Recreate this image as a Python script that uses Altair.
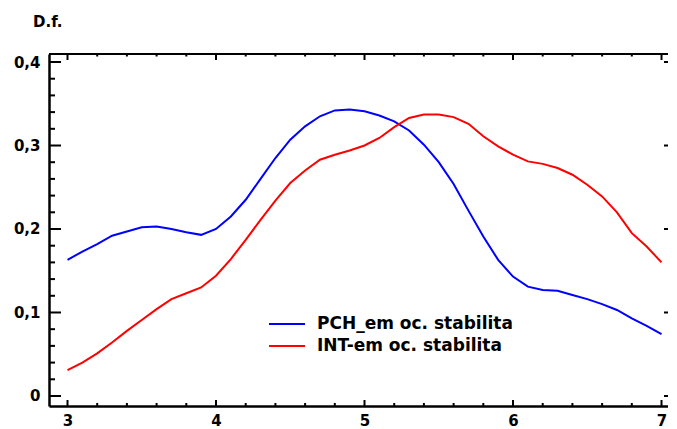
import altair as alt
import pandas as pd

# ---------------- data ----------------
x_vals = [3.0, 3.1, 3.2, 3.3, 3.4, 3.5, 3.6, 3.7, 3.8, 3.9,
          4.0, 4.1, 4.2, 4.3, 4.4, 4.5, 4.6, 4.7, 4.8, 4.9,
          5.0, 5.1, 5.2, 5.3, 5.4, 5.5, 5.6, 5.7, 5.8, 5.9,
          6.0, 6.1, 6.2, 6.3, 6.4, 6.5, 6.6, 6.7, 6.8, 6.9, 7.0]

pch_vals = [0.163, 0.173, 0.182, 0.192, 0.197, 0.202, 0.203, 0.200, 0.196, 0.193,
            0.200, 0.215, 0.235, 0.260, 0.285, 0.307, 0.323, 0.335, 0.342, 0.343,
            0.341, 0.336, 0.329, 0.318, 0.301, 0.280, 0.254, 0.222, 0.191, 0.163,
            0.143, 0.131, 0.127, 0.126, 0.121, 0.116, 0.110, 0.103, 0.093, 0.084, 0.074]

int_vals = [0.031, 0.040, 0.051, 0.064, 0.078, 0.091, 0.104, 0.116, 0.123, 0.130,
            0.144, 0.164, 0.187, 0.211, 0.234, 0.255, 0.270, 0.283, 0.289, 0.294,
            0.300, 0.309, 0.322, 0.333, 0.337, 0.337, 0.334, 0.326, 0.311, 0.299,
            0.289, 0.281, 0.278, 0.273, 0.265, 0.253, 0.239, 0.220, 0.195, 0.179, 0.160]

series_names = ["PCH_em oc. stabilita", "INT-em oc. stabilita"]
series_colors = ["#0000FF", "#FF0000"]

x_major = [3, 4, 5, 6, 7]
x_minor = [3.2, 3.4, 3.6, 3.8, 4.2, 4.4, 4.6, 4.8, 5.2, 5.4, 5.6, 5.8,
           6.2, 6.4, 6.6, 6.8]
y_major = [0, 0.1, 0.2, 0.3, 0.4]
y_minor = [0.02, 0.04, 0.06, 0.08, 0.12, 0.14, 0.16, 0.18, 0.22, 0.24, 0.26, 0.28,
           0.32, 0.34, 0.36, 0.38]

y_title = "D.f."

# ---------------- layout ----------------
W, H = 619, 352
FONT = "DejaVu Sans"

df = pd.concat([
    pd.DataFrame({"x": x_vals, "y": pch_vals, "series": series_names[0]}),
    pd.DataFrame({"x": x_vals, "y": int_vals, "series": series_names[1]}),
])

xscale = alt.Scale(domain=[2.8754, 7.0437], nice=False, zero=False)
yscale = alt.Scale(domain=[-0.012, 0.4096], nice=False, zero=False)
cscale = alt.Scale(domain=series_names, range=series_colors)

xaxis = alt.Axis(values=x_major, format="d", ticks=False, grid=False, title=None,
                 labelPadding=7, labelFont=FONT, labelFontSize=15, labelFontWeight="bold",
                 labelColor="black", domainColor="black", domainWidth=2.5)
yaxis = alt.Axis(values=y_major, ticks=False, grid=False, title=None,
                 labelPadding=9, labelFont=FONT, labelFontSize=15, labelFontWeight="bold",
                 labelColor="black", domainColor="black", domainWidth=2.5,
                 labelExpr="datum.value == 0 ? '0' : replace(format(datum.value, '.1f'), '.', ',')")

lines = alt.Chart(df).mark_line(strokeWidth=2).encode(
    x=alt.X("x:Q", scale=xscale, axis=xaxis),
    y=alt.Y("y:Q", scale=yscale, axis=yaxis),
    color=alt.Color("series:N", scale=cscale, sort=series_names, legend=None),
)

# manual legend (one row per series)
legend_layers = []
for i, (name, col) in enumerate(zip(series_names, series_colors)):
    row_y = 270 + 22 * i
    ldf = pd.DataFrame({"series": [name]})
    legend_layers.append(
        alt.Chart(ldf).mark_rule(strokeWidth=2, color=col).encode(
            x=alt.value(220), x2=alt.value(256), y=alt.value(row_y)))
    legend_layers.append(
        alt.Chart(ldf).mark_text(align="left", baseline="middle", font=FONT, fontSize=17,
                                 fontWeight="bold", color="black").encode(
            text="series:N", x=alt.value(268), y=alt.value(row_y)))

def rules_y(vals, x0, x1, sw=2):
    return alt.Chart(pd.DataFrame({"y": vals})).mark_rule(color="black", strokeWidth=sw).encode(
        y=alt.Y("y:Q", scale=yscale), x=alt.value(x0), x2=alt.value(x1))

def rules_x(vals, y0, y1, sw=2):
    return alt.Chart(pd.DataFrame({"x": vals})).mark_rule(color="black", strokeWidth=sw).encode(
        x=alt.X("x:Q", scale=xscale), y=alt.value(y0), y2=alt.value(y1))

left_major = rules_y(y_major, 0, 12)
left_minor = rules_y(y_minor, 0, 6)
right_major = rules_y(y_major, W - 4, W)
bottom_major = rules_x(x_major, H, H - 6)
bottom_minor = rules_x(x_minor, H, H - 3)
top_major = rules_x(x_major, 0, 6)
top_minor = rules_x(x_minor, 0, 2.5)

top_frame = alt.Chart(pd.DataFrame({"a": [0]})).mark_rule(color="black", strokeWidth=2).encode(
    x=alt.value(0), x2=alt.value(W), y=alt.value(0))

title_text = alt.Chart(pd.DataFrame({"t": [y_title]})).mark_text(
    align="left", baseline="alphabetic", font=FONT, fontSize=15, fontWeight="bold", color="black"
).encode(text="t:N", x=alt.value(-16), y=alt.value(-27))

chart = alt.layer(
    lines, left_major, left_minor, right_major, bottom_major, bottom_minor,
    top_major, top_minor, top_frame, title_text, *legend_layers
).properties(
    width=W, height=H,
    autosize=alt.AutoSizeParams(type="none"),
    padding={"left": 41, "top": 46, "right": 0, "bottom": 23},
).configure_view(stroke=None)

chart.save("out.html", embed_options={"renderer": "svg", "actions": False})
